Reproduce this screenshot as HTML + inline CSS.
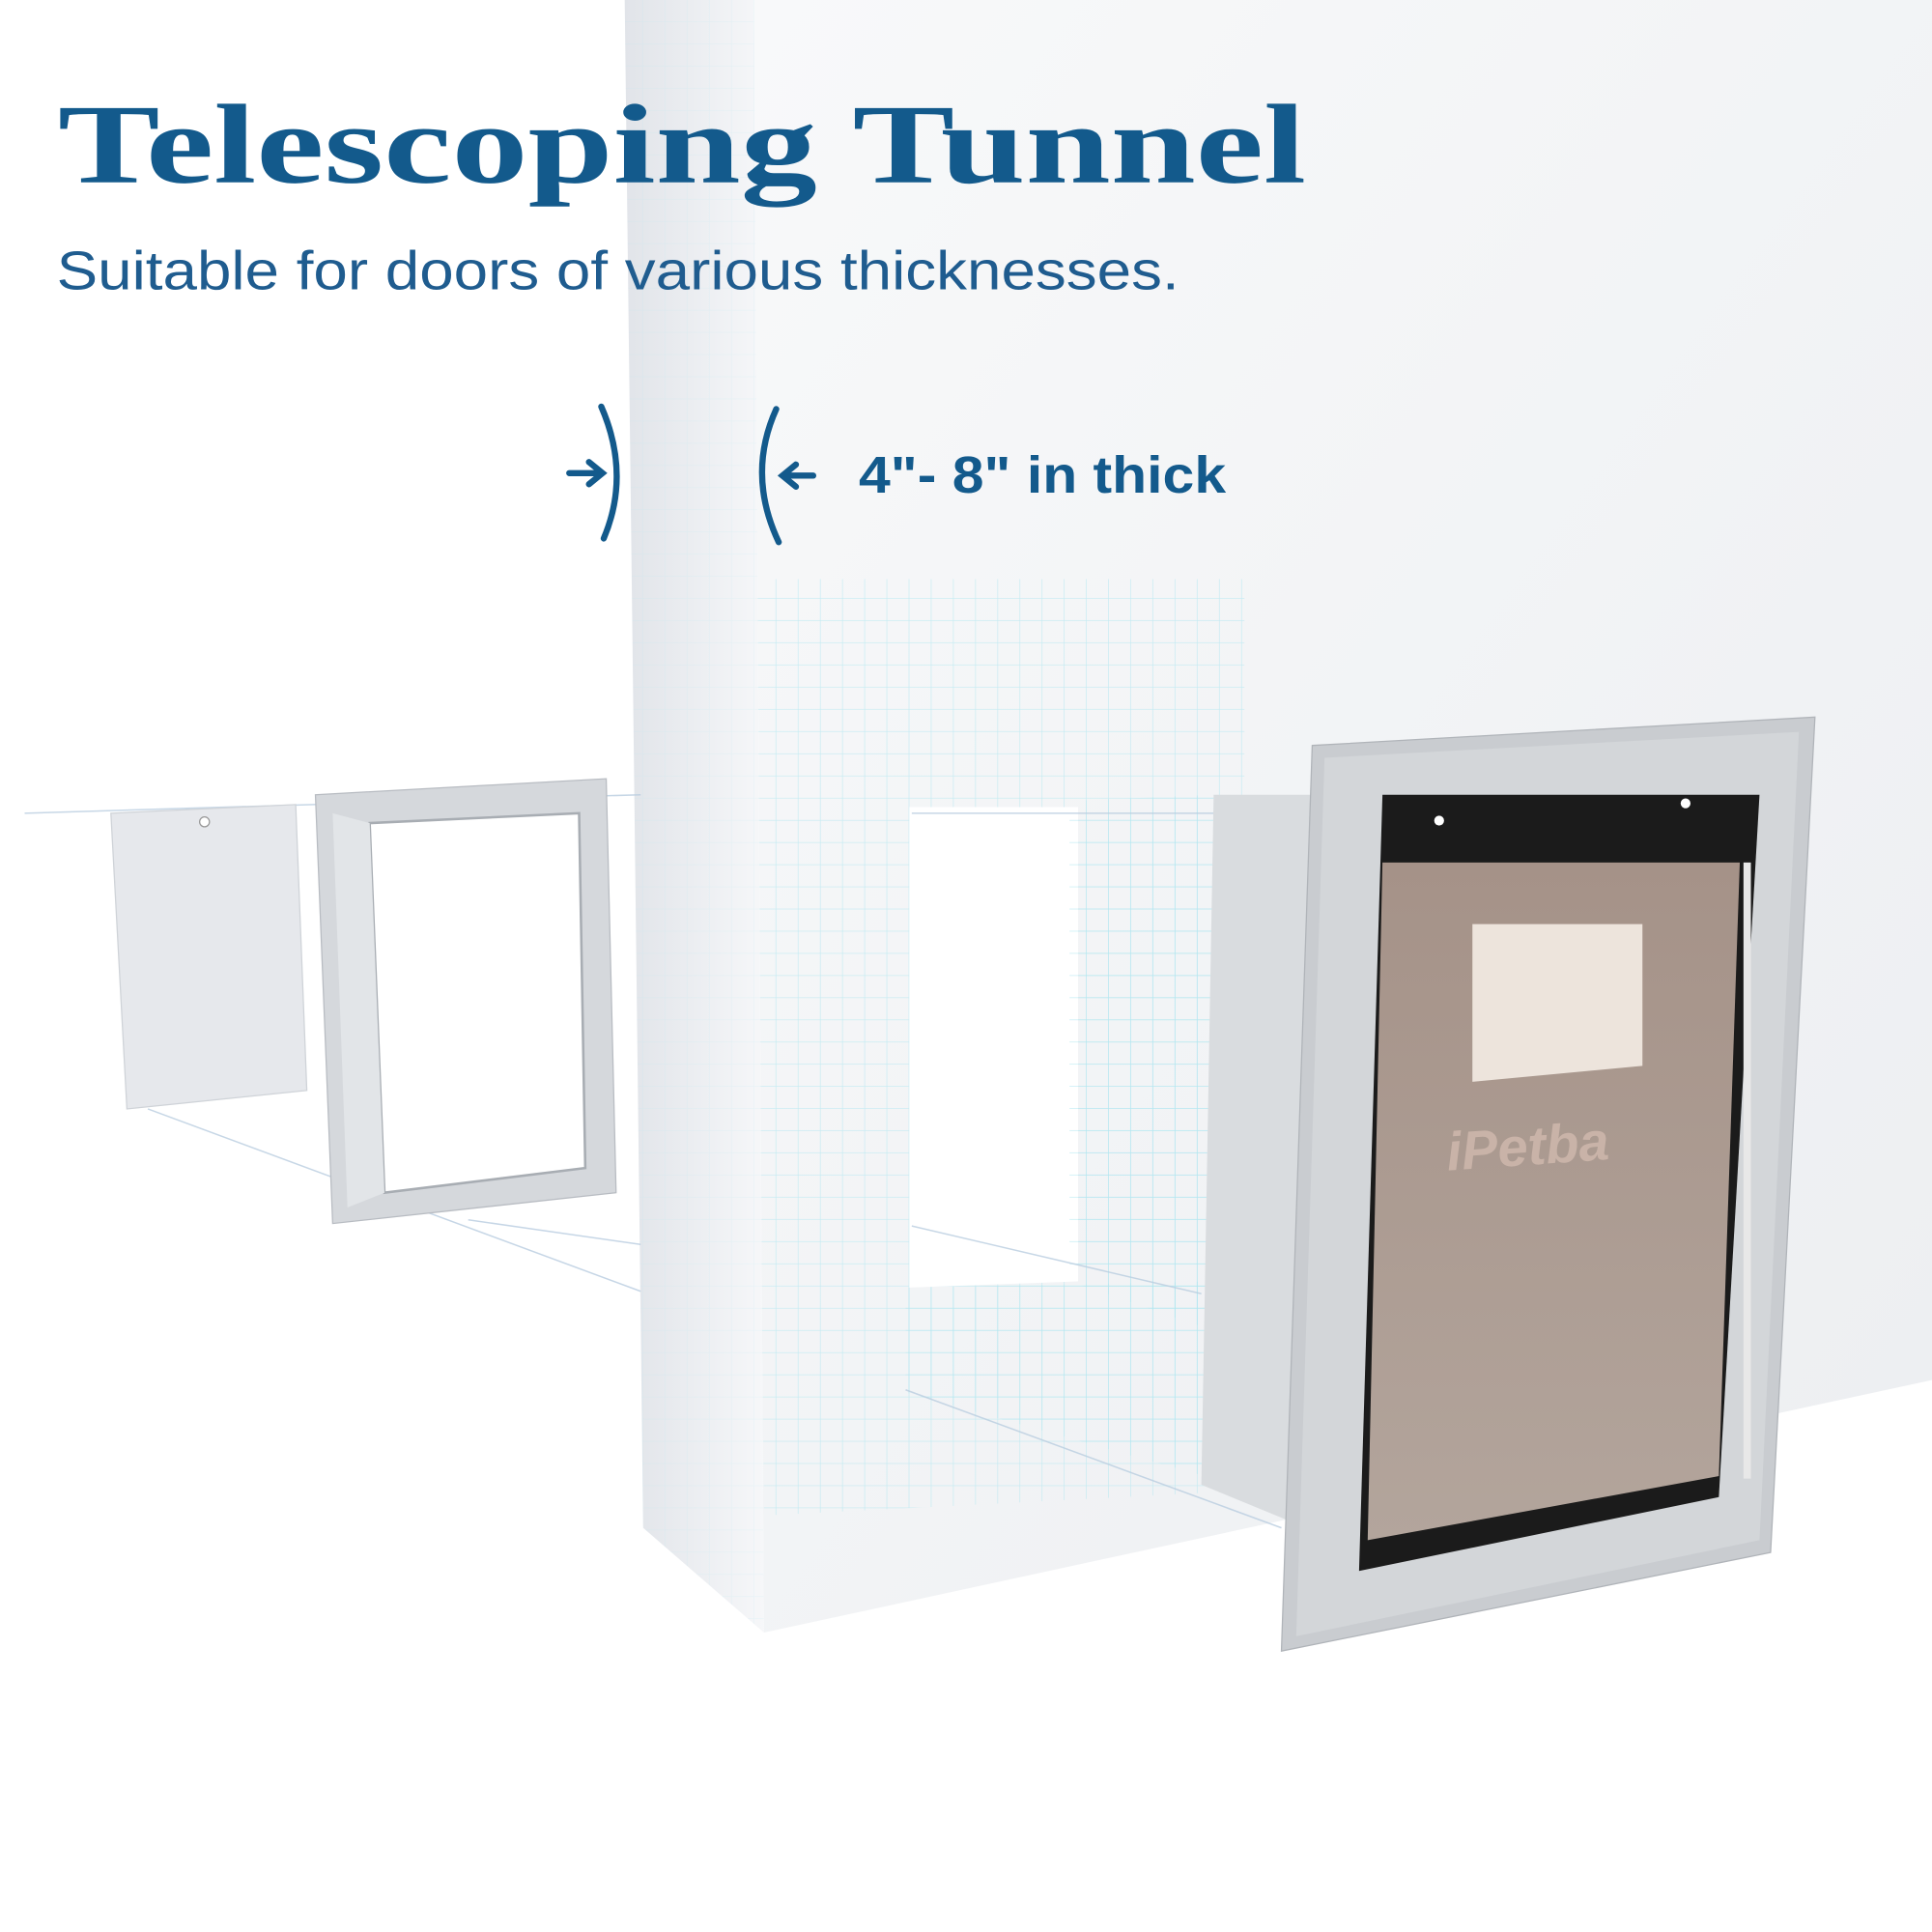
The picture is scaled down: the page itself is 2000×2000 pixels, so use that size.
<!DOCTYPE html>
<html><head><meta charset="utf-8"><style>
html,body{margin:0;padding:0;background:#fff;}
svg{display:block}
</style></head><body>
<svg width="2000" height="2000" viewBox="0 0 1568 1568" xmlns="http://www.w3.org/2000/svg">
<defs>
<linearGradient id="wall" x1="0" y1="0" x2="1" y2="1">
<stop offset="0" stop-color="#f8f9fa"/><stop offset="1" stop-color="#eceef1"/></linearGradient>
<linearGradient id="side" x1="0" y1="0" x2="1" y2="0">
<stop offset="0" stop-color="#e1e4e9"/><stop offset="1" stop-color="#f6f7f9"/></linearGradient>
<linearGradient id="flap" x1="0" y1="0" x2="0" y2="1">
<stop offset="0" stop-color="#a59288"/><stop offset="1" stop-color="#b3a59c"/></linearGradient>
<pattern id="grid" width="18" height="18" patternUnits="userSpaceOnUse">
<path d="M18 0V18H0" fill="none" stroke="#aee6f0" stroke-width="1"/></pattern>
</defs>
<rect width="1568" height="1568" fill="#fff"/>
<polygon points="612,0 1568,0 1568,1120 620,1325" fill="url(#wall)"/>
<polygon points="612,470 1010,470 1010,1210 620,1230" fill="url(#grid)" opacity="0.7"/>
<polygon points="507,0 612,0 620,1325 522,1240" fill="url(#side)"/>
<polygon points="507,0 612,0 620,1325 522,1240" fill="url(#grid)" opacity="0.2"/>
<polygon points="738,655 875,655 875,1040 738,1045" fill="#fff"/>
<polygon points="868,650 985,645 985,1080 868,1040" fill="url(#grid)" opacity="0.8"/>
<polygon points="735,1045 985,1040 985,1200 735,1130" fill="url(#grid)" opacity="0.8"/>
<g stroke="#b9cde0" stroke-width="1.2" fill="none" opacity="0.8">
<line x1="20" y1="660" x2="520" y2="645"/>
<line x1="120" y1="900" x2="520" y2="1048"/>
<line x1="380" y1="990" x2="520" y2="1010"/>
<line x1="740" y1="660" x2="985" y2="660"/>
<line x1="735" y1="1128" x2="1040" y2="1240"/>
<line x1="740" y1="995" x2="975" y2="1050"/>
</g>
<polygon points="90,660 240,653 249,885 103,900" fill="#e6e8ec" stroke="#cfd3d8"/>
<circle cx="166" cy="667" r="4" fill="#fff" stroke="#999"/>
<polygon points="256,645 492,632 500,968 270,993" fill="#d5d8dc" stroke="#b8bcc2"/>
<polygon points="300,668 470,660 475,948 312,968" fill="#fff" stroke="#a8adb3" stroke-width="2"/>
<polygon points="270,660 300,668 312,968 282,980" fill="#e2e5e8"/>
<polygon points="985,645 1065,645 1060,1240 975,1205" fill="#d9dcdf"/>
<polygon points="1065,605 1473,582 1437,1260 1040,1340" fill="#c9ccd0" stroke="#b0b4b9"/>
<polygon points="1075,615 1460,594 1428,1250 1052,1328" fill="#d3d6d9"/>
<polygon points="1122,645 1428,645 1395,1215 1103,1275" fill="#1b1b1b"/>
<polygon points="1122,700 1412,700 1395,1198 1110,1250" fill="url(#flap)"/>
<rect x="1415" y="700" width="6" height="500" fill="#e8e8e8"/>
<circle cx="1168" cy="666" r="4" fill="#fff"/><circle cx="1368" cy="652" r="4" fill="#fff"/>
<polygon points="1195,750 1333,750 1333,865 1195,878" fill="#ede4dc"/>
<text x="1175" y="950" font-family="Liberation Sans, sans-serif" font-weight="bold" font-style="italic" font-size="44" fill="#c9b3a8" transform="rotate(-4 1175 950)">iPetba</text>
<text x="47" y="148" font-family="Liberation Serif, serif" font-weight="bold" font-size="92" fill="#135a8c" textLength="1013" lengthAdjust="spacingAndGlyphs">Telescoping Tunnel</text>
<text x="46" y="235" font-family="Liberation Sans, sans-serif" font-size="44" fill="#1f5c8f" textLength="911" lengthAdjust="spacingAndGlyphs">Suitable for doors of various thicknesses.</text>
<g stroke="#135a8c" stroke-width="5" fill="none" stroke-linecap="round">
<path d="M488,330 Q512,385 490,437"/>
<path d="M630,332 Q606,385 632,440"/>
<line x1="462" y1="384" x2="488" y2="384"/><path d="M478,375 L489,384 L478,393"/>
<line x1="660" y1="386" x2="636" y2="386"/><path d="M646,377 L635,386 L646,395"/>
</g>
<text x="697" y="400" font-family="Liberation Sans, sans-serif" font-weight="bold" font-size="42" fill="#135a8c" textLength="298" lengthAdjust="spacingAndGlyphs">4"- 8" in thick</text>
</svg>
</body></html>
